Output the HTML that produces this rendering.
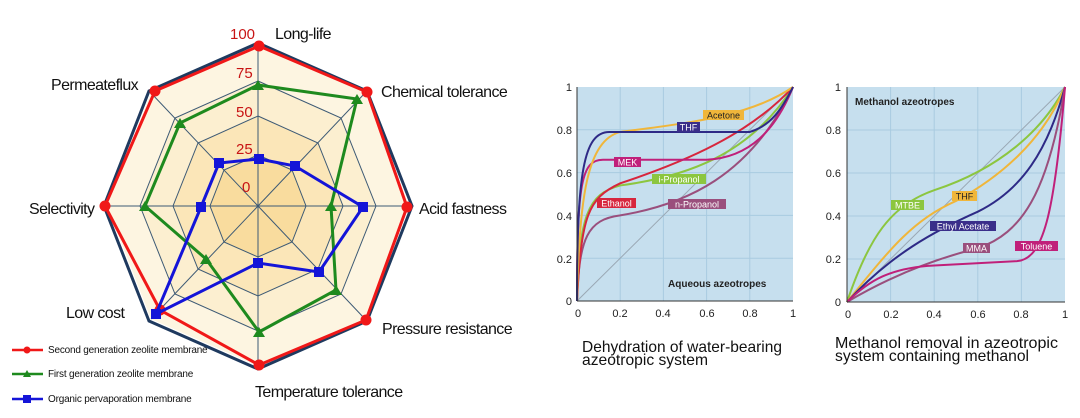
<!DOCTYPE html>
<html><head><meta charset="utf-8"><style>
html,body{margin:0;padding:0;background:#fff;}
svg{display:block;font-family:"Liberation Sans",sans-serif;}
.c{fill:none;stroke-width:2;vector-effect:non-scaling-stroke;}
.g line{stroke:#a9cbe0;stroke-width:1;vector-effect:non-scaling-stroke;}
.t{font-size:11px;fill:#222;}
.lb{font-size:9px;}
</style></head><body>
<svg width="1080" height="418" viewBox="0 0 1080 418" xmlns="http://www.w3.org/2000/svg">
<!-- Radar -->
<polygon points="258,46 365,93 409,206 365,319 258,366 151,319 107,206 151,93" fill="#fdf5e1"/>
<polygon points="258,81 341,118 376,206 341,294 258,331 175,294 140,206 175,118" fill="#fcefd0" stroke="#3d5a75" stroke-width="1"/>
<polygon points="258,116 318,143 343,206 318,269 258,296 198,269 173,206 198,143" fill="#fbe6b8" stroke="#3d5a75" stroke-width="1"/>
<polygon points="258,155 292,170 306,206 292,242 258,257 224,242 210,206 224,170" fill="#f9dc9e" stroke="#3d5a75" stroke-width="1"/>
<g stroke="#3d5a75" stroke-width="1">
<line x1="258" y1="206" x2="258" y2="46"/><line x1="258" y1="206" x2="365" y2="93"/>
<line x1="258" y1="206" x2="409" y2="206"/><line x1="258" y1="206" x2="365" y2="319"/>
<line x1="258" y1="206" x2="258" y2="366"/><line x1="258" y1="206" x2="151" y2="319"/>
<line x1="258" y1="206" x2="107" y2="206"/><line x1="258" y1="206" x2="151" y2="93"/>
</g>
<polygon points="258,43 367,91 412,206 367,321 258,369 149,321 104,206 149,91" fill="none" stroke="#1f3a5f" stroke-width="3"/>
<polygon points="259,46 367,92 407,207 366,320 259,365 160,310 105,206 155,91" fill="none" stroke="#f01818" stroke-width="3"/>
<g fill="#f01818">
<circle cx="259" cy="46" r="5.5"/><circle cx="367" cy="92" r="5.5"/><circle cx="407" cy="207" r="5.5"/><circle cx="366" cy="320" r="5.5"/><circle cx="259" cy="365" r="5.5"/><circle cx="160" cy="310" r="5.5"/><circle cx="105" cy="206" r="5.5"/><circle cx="155" cy="91" r="5.5"/>
</g>
<polygon points="258,85 357,99 331,206 336,290 259,332 206,259 145,206 180,123" fill="none" stroke="#1e8a1e" stroke-width="3"/>
<g fill="#1e8a1e">
<polygon points="258,80 264,90 252,90"/><polygon points="357,94 363,104 351,104"/><polygon points="331,201 337,211 325,211"/><polygon points="336,285 342,295 330,295"/><polygon points="259,327 265,337 253,337"/><polygon points="206,254 212,264 200,264"/><polygon points="145,201 151,211 139,211"/><polygon points="180,118 186,128 174,128"/>
</g>
<polygon points="259,159 295,166 363,207 319,272 258,263 156,314 201,207 219,163" fill="none" stroke="#1414d8" stroke-width="3"/>
<g fill="#1414d8">
<rect x="254" y="154" width="10" height="10"/><rect x="290" y="161" width="10" height="10"/><rect x="358" y="202" width="10" height="10"/><rect x="314" y="267" width="10" height="10"/><rect x="253" y="258" width="10" height="10"/><rect x="151" y="309" width="10" height="10"/><rect x="196" y="202" width="10" height="10"/><rect x="214" y="158" width="10" height="10"/>
</g>
<g fill="#c81414" font-size="15">
<text x="230" y="39">100</text><text x="236" y="78">75</text><text x="236" y="117">50</text><text x="236" y="154">25</text><text x="242" y="192">0</text>
</g>
<g font-size="16" fill="#111" letter-spacing="-0.6">
<text x="275" y="39">Long-life</text>
<text x="381" y="97">Chemical tolerance</text>
<text x="419" y="214">Acid fastness</text>
<text x="382" y="334">Pressure resistance</text>
<text x="255" y="397">Temperature tolerance</text>
<text x="66" y="318">Low cost</text>
<text x="29" y="214">Selectivity</text>
<text x="51" y="90">Permeateflux</text>
</g>
<g stroke-width="2.5">
<line x1="12" y1="350" x2="43" y2="350" stroke="#f01818"/><line x1="12" y1="374" x2="43" y2="374" stroke="#1e8a1e"/><line x1="12" y1="399" x2="43" y2="399" stroke="#1414d8"/>
</g>
<circle cx="27" cy="350" r="3.5" fill="#f01818"/>
<polygon points="27,370 31,377 23,377" fill="#1e8a1e"/>
<rect x="23" y="395" width="8" height="8" fill="#1414d8"/>
<g font-size="10" fill="#111" letter-spacing="-0.2">
<text x="48" y="353">Second generation zeolite membrane</text>
<text x="48" y="377">First generation zeolite membrane</text>
<text x="48" y="402">Organic pervaporation membrane</text>
</g>

<!-- Chart 2 -->
<rect x="577" y="87" width="216" height="214" fill="#c6dfee"/>
<g transform="translate(577,301) scale(216,-214)">
<g class="g"><line x1="0.2" y1="0" x2="0.2" y2="1"/><line x1="0.4" y1="0" x2="0.4" y2="1"/><line x1="0.6" y1="0" x2="0.6" y2="1"/><line x1="0.8" y1="0" x2="0.8" y2="1"/>
<line x1="0" y1="0.2" x2="1" y2="0.2"/><line x1="0" y1="0.4" x2="1" y2="0.4"/><line x1="0" y1="0.6" x2="1" y2="0.6"/><line x1="0" y1="0.8" x2="1" y2="0.8"/></g>
<line x1="0" y1="0" x2="1" y2="1" stroke="#9aa8b4" stroke-width="1" vector-effect="non-scaling-stroke"/>
<path class="c" stroke="#9a4f7d" d="M0 0 C0.01 0.3 0.05 0.38 0.2 0.4 C0.5 0.45 0.8 0.58 1 1"/>
<path class="c" stroke="#8cc63f" d="M0 0 C0.01 0.4 0.05 0.5 0.2 0.54 C0.5 0.58 0.8 0.68 1 1"/>
<path class="c" stroke="#d7263d" d="M0 0 C0.02 0.4 0.05 0.48 0.2 0.55 C0.5 0.65 0.8 0.78 1 1"/>
<path class="c" stroke="#c0207a" d="M0 0 C0 0.55 0.02 0.66 0.12 0.66 L0.6 0.66 C0.8 0.67 0.92 0.8 1 1"/>
<path class="c" stroke="#f0b63a" d="M0 0 C0.01 0.5 0.05 0.75 0.2 0.79 C0.5 0.83 0.8 0.86 1 1"/>
<path class="c" stroke="#2e2a86" d="M0 0 C0 0.6 0.03 0.79 0.15 0.79 L0.8 0.79 C0.9 0.82 0.95 0.9 1 1"/>
</g>
<line x1="577" y1="87" x2="577" y2="301" stroke="#333" stroke-width="1"/>
<line x1="577" y1="301" x2="793" y2="301" stroke="#333" stroke-width="1"/>
<g class="lb" text-anchor="middle">
<rect x="703" y="110" width="41" height="10" fill="#f0b63a"/><text x="723.5" y="118.5" fill="#222">Acetone</text>
<rect x="677" y="122" width="23" height="10" fill="#3a2e8a"/><text x="688.5" y="130.5" fill="#fff">THF</text>
<rect x="614" y="157" width="27" height="10" fill="#c0207a"/><text x="627.5" y="165.5" fill="#fff">MEK</text>
<rect x="652" y="174" width="54" height="10" fill="#8cc63f"/><text x="679" y="182.5" fill="#fff">i-Propanol</text>
<rect x="597" y="198" width="39" height="10" fill="#d7263d"/><text x="616.5" y="206.5" fill="#fff">Ethanol</text>
<rect x="668" y="199" width="58" height="10" fill="#9a4f7d"/><text x="697" y="207.5" fill="#fff">n-Propanol</text>
</g>
<text x="668" y="287" font-size="10" font-weight="bold" fill="#222">Aqueous azeotropes</text>
<g class="t" text-anchor="end">
<text x="572" y="91">1</text><text x="572" y="134">0.8</text><text x="572" y="177">0.6</text><text x="572" y="220">0.4</text><text x="572" y="263">0.2</text><text x="572" y="305">0</text>
</g>
<g class="t" text-anchor="middle">
<text x="578" y="317">0</text><text x="620" y="317">0.2</text><text x="663" y="317">0.4</text><text x="707" y="317">0.6</text><text x="750" y="317">0.8</text><text x="793" y="317">1</text>
</g>
<g font-size="16" fill="#111">
<text x="582" y="352" textLength="200" lengthAdjust="spacingAndGlyphs">Dehydration of water-bearing</text>
<text x="582" y="365" textLength="126" lengthAdjust="spacingAndGlyphs">azeotropic system</text>
</g>

<!-- Chart 3 -->
<rect x="847" y="87" width="218" height="215" fill="#c6dfee"/>
<g transform="translate(847,302) scale(218,-215)">
<g class="g"><line x1="0.2" y1="0" x2="0.2" y2="1"/><line x1="0.4" y1="0" x2="0.4" y2="1"/><line x1="0.6" y1="0" x2="0.6" y2="1"/><line x1="0.8" y1="0" x2="0.8" y2="1"/>
<line x1="0" y1="0.2" x2="1" y2="0.2"/><line x1="0" y1="0.4" x2="1" y2="0.4"/><line x1="0" y1="0.6" x2="1" y2="0.6"/><line x1="0" y1="0.8" x2="1" y2="0.8"/></g>
<line x1="0" y1="0" x2="1" y2="1" stroke="#9aa8b4" stroke-width="1" vector-effect="non-scaling-stroke"/>
<path class="c" stroke="#8cc63f" d="M0 0 C0.1 0.3 0.2 0.45 0.4 0.52 C0.7 0.62 0.9 0.8 1 1"/>
<path class="c" stroke="#f0b63a" d="M0 0 C0.2 0.25 0.3 0.38 0.5 0.47 C0.7 0.58 0.9 0.75 1 1"/>
<path class="c" stroke="#2e2a86" d="M0 0 C0.2 0.22 0.4 0.33 0.6 0.42 C0.8 0.52 0.92 0.7 1 1"/>
<path class="c" stroke="#9a4f7d" d="M0 0 C0.2 0.12 0.4 0.2 0.6 0.25 C0.8 0.32 0.92 0.5 1 1"/>
<path class="c" stroke="#c0207a" d="M0 0 C0.1 0.1 0.2 0.16 0.4 0.17 L0.78 0.19 C0.9 0.2 0.95 0.4 1 1"/>
</g>
<line x1="847" y1="87" x2="847" y2="302" stroke="#333" stroke-width="1"/>
<line x1="847" y1="302" x2="1065" y2="302" stroke="#333" stroke-width="1"/>
<g class="lb" text-anchor="middle">
<rect x="891" y="200" width="33" height="10" fill="#8cc63f"/><text x="907.5" y="208.5" fill="#fff">MTBE</text>
<rect x="952" y="191" width="25" height="10" fill="#f0b63a"/><text x="964.5" y="199.5" fill="#222">THF</text>
<rect x="930" y="221" width="66" height="10" fill="#3a2e8a"/><text x="963" y="229.5" fill="#fff">Ethyl Acetate</text>
<rect x="963" y="243" width="27" height="10" fill="#9a4f7d"/><text x="976.5" y="251.5" fill="#fff">MMA</text>
<rect x="1015" y="241" width="43" height="10" fill="#c0207a"/><text x="1036.5" y="249.5" fill="#fff">Toluene</text>
</g>
<text x="855" y="105" font-size="10" font-weight="bold" fill="#222">Methanol azeotropes</text>
<g class="t" text-anchor="end">
<text x="841" y="91">1</text><text x="841" y="134">0.8</text><text x="841" y="177">0.6</text><text x="841" y="220">0.4</text><text x="841" y="263">0.2</text><text x="841" y="306">0</text>
</g>
<g class="t" text-anchor="middle">
<text x="848" y="318">0</text><text x="891" y="318">0.2</text><text x="934" y="318">0.4</text><text x="978" y="318">0.6</text><text x="1021" y="318">0.8</text><text x="1065" y="318">1</text>
</g>
<g font-size="16" fill="#111">
<text x="835" y="348" textLength="223" lengthAdjust="spacingAndGlyphs">Methanol removal in azeotropic</text>
<text x="835" y="361" textLength="194" lengthAdjust="spacingAndGlyphs">system containing methanol</text>
</g>
</svg>
</body></html>
